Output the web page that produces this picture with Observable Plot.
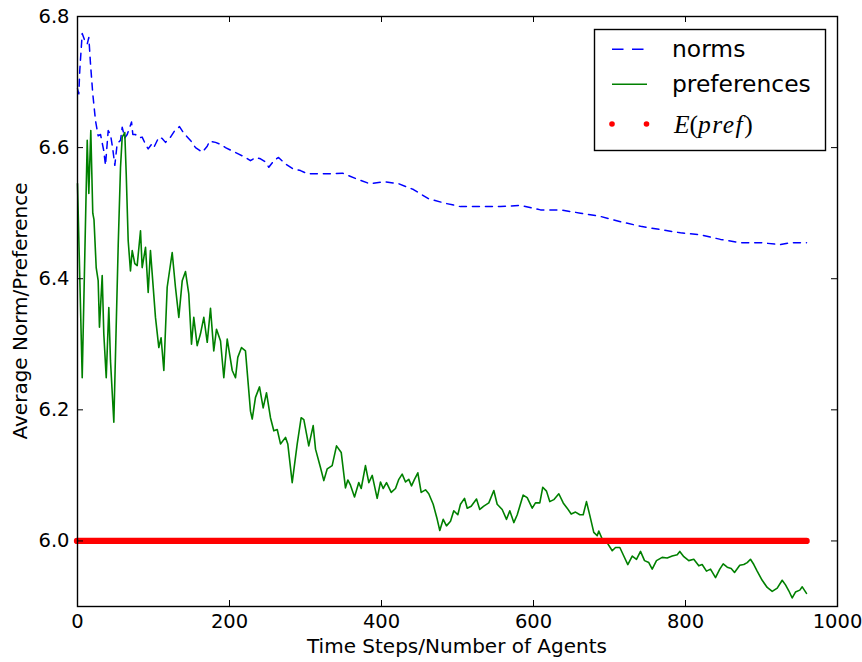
<!DOCTYPE html>
<html>
<head>
<meta charset="utf-8">
<script src="https://cdn.jsdelivr.net/npm/d3@7"></script>
<script src="https://cdn.jsdelivr.net/npm/@observablehq/plot@0.6"></script>
<style>
  html, body { margin: 0; padding: 0; background: #fff; }
  #chart { position: relative; width: 862px; height: 662px; }
</style>
</head>
<body>
<div id="chart"></div>
<script>
// ---- data ----
const xTicks = [0, 200, 400, 600, 800, 1000];
const yTicks = [6.0, 6.2, 6.4, 6.6, 6.8];
const xLabel = "Time Steps/Number of Agents";
const yLabel = "Average Norm/Preference";
const legendLabels = ["norms", "preferences", "E(pref)"];

// norms (blue dashed)
const normT = [0, 1.7, 3, 6.2, 9.6, 12.8, 14.9, 17.1, 20.1, 23.7, 27.2, 30.3, 34.6, 36.8, 40.4, 43.4, 46.4, 49.1, 52.2, 56.6, 58.8, 62.2, 65.4, 71.1, 72.8, 76.3, 80.7, 85.1, 89.5, 93, 97.4, 100.4, 107, 111.4, 115.8, 122.4, 128, 134.2, 139.9, 148.7, 155.3, 164.1, 170.7, 173.7, 181.6, 188.2, 194.7, 203.6, 212.2, 221, 227.6, 234.2, 240.8, 247.4, 251.7, 258.3, 264.5, 273.7, 282.9, 293.4, 302.6, 313.2, 331.6, 348.7, 365.8, 384.2, 403.9, 422.4, 442.1, 461.8, 484.2, 503.9, 530.3, 556.6, 582.9, 609.2, 635.5, 661.8, 688.2, 714.5, 740.8, 767.1, 793.4, 819.7, 846.1, 872.4, 898.7, 925, 938.2, 959.2];
const normV = [6.69, 6.682, 6.718, 6.774, 6.763, 6.758, 6.768, 6.728, 6.682, 6.641, 6.618, 6.62, 6.595, 6.573, 6.626, 6.62, 6.598, 6.573, 6.606, 6.611, 6.631, 6.615, 6.62, 6.639, 6.62, 6.62, 6.615, 6.616, 6.605, 6.598, 6.605, 6.6, 6.616, 6.614, 6.608, 6.616, 6.626, 6.632, 6.622, 6.611, 6.6, 6.593, 6.602, 6.61, 6.608, 6.605, 6.6, 6.595, 6.59, 6.585, 6.58, 6.585, 6.583, 6.578, 6.57, 6.58, 6.585, 6.575, 6.568, 6.565, 6.56, 6.56, 6.56, 6.561, 6.553, 6.545, 6.548, 6.545, 6.536, 6.522, 6.515, 6.51, 6.51, 6.51, 6.512, 6.505, 6.505, 6.5, 6.495, 6.487, 6.48, 6.475, 6.47, 6.467, 6.46, 6.455, 6.455, 6.452, 6.455, 6.455];

// preferences (green)
const prefT = [0, 6.2, 12.8, 14.9, 17.5, 20.1, 21.7, 24.6, 27.2, 28.9, 32.5, 34.6, 37.8, 41.2, 43.4, 47.8, 53.6, 56.6, 58.8, 62.2, 64.1, 66.7, 69.7, 72, 75.4, 78.5, 82.9, 85.1, 89.5, 93, 96, 102.6, 107, 110, 113.6, 118, 124.6, 128.9, 133.3, 137.8, 142.1, 146.4, 150, 153, 157.5, 161.8, 166.2, 170.7, 175, 179.3, 182.9, 188.2, 192.5, 197, 203.6, 207.9, 210.9, 215.8, 221, 227.6, 229.9, 234.2, 239.5, 244.3, 248.7, 253.9, 258.3, 262.8, 267.1, 273.7, 276.7, 282.5, 289.1, 294.3, 297.8, 304.3, 310.1, 313.2, 319.7, 324.1, 328.6, 335.1, 340.8, 347, 352.6, 355.7, 359.2, 364.5, 370.1, 373.3, 378.9, 383.3, 387.8, 394.3, 398.7, 402.2, 406.6, 412.8, 418.4, 422.8, 427.2, 431.6, 435.9, 439.5, 443.4, 447.8, 452.2, 457.9, 462.2, 468, 473.3, 476.7, 481.2, 485.5, 490.8, 495.1, 500.4, 503.9, 509.2, 512.8, 518, 525, 529.3, 534.6, 541.2, 547.8, 552.2, 558.8, 564.5, 568.8, 574.1, 578.6, 586.4, 591.7, 598.3, 602.6, 608.3, 612.2, 617.1, 621.4, 626.7, 633.3, 639.1, 644.3, 649.6, 655.3, 661, 665.4, 669.7, 674.1, 679.3, 683.8, 685.9, 690.4, 697, 703.6, 707.9, 713.6, 718.8, 724.1, 729.9, 735.5, 740.8, 746.1, 751.7, 756.2, 761.8, 769.3, 775.9, 782.5, 789.1, 792.5, 797.8, 804.3, 810.9, 817.5, 821.9, 827.6, 832.9, 839.5, 845.1, 849.6, 854.9, 860.1, 864.5, 871.4, 876.7, 881.2, 885.5, 889.9, 894.3, 900.9, 907.5, 914.1, 920.7, 927.2, 931.6, 935.9, 940.4, 944.7, 950.4, 953.6, 959.2];
const prefV = [6.545, 6.249, 6.611, 6.53, 6.626, 6.5, 6.49, 6.417, 6.397, 6.326, 6.405, 6.316, 6.249, 6.356, 6.275, 6.181, 6.453, 6.57, 6.616, 6.623, 6.56, 6.458, 6.412, 6.443, 6.423, 6.42, 6.473, 6.417, 6.448, 6.379, 6.443, 6.341, 6.295, 6.31, 6.26, 6.387, 6.44, 6.387, 6.341, 6.397, 6.411, 6.377, 6.3, 6.341, 6.298, 6.316, 6.341, 6.303, 6.355, 6.29, 6.323, 6.305, 6.249, 6.308, 6.26, 6.249, 6.28, 6.295, 6.29, 6.198, 6.186, 6.219, 6.235, 6.203, 6.226, 6.188, 6.168, 6.17, 6.148, 6.158, 6.148, 6.089, 6.148, 6.188, 6.185, 6.145, 6.176, 6.14, 6.112, 6.092, 6.11, 6.115, 6.145, 6.135, 6.081, 6.093, 6.085, 6.067, 6.089, 6.08, 6.115, 6.089, 6.1, 6.065, 6.09, 6.08, 6.089, 6.074, 6.08, 6.094, 6.102, 6.09, 6.094, 6.084, 6.094, 6.104, 6.074, 6.078, 6.072, 6.056, 6.033, 6.016, 6.033, 6.023, 6.03, 6.046, 6.04, 6.056, 6.065, 6.05, 6.053, 6.064, 6.048, 6.053, 6.058, 6.077, 6.056, 6.048, 6.033, 6.046, 6.028, 6.04, 6.07, 6.066, 6.05, 6.058, 6.058, 6.082, 6.076, 6.06, 6.063, 6.072, 6.058, 6.05, 6.041, 6.044, 6.04, 6.04, 6.06, 6.039, 6.013, 6.008, 6.015, 6.003, 5.997, 5.985, 5.99, 5.99, 5.977, 5.964, 5.977, 5.972, 5.984, 5.97, 5.967, 5.957, 5.97, 5.975, 5.974, 5.977, 5.979, 5.984, 5.976, 5.97, 5.972, 5.962, 5.964, 5.954, 5.957, 5.944, 5.957, 5.965, 5.96, 5.958, 5.952, 5.963, 5.964, 5.967, 5.972, 5.964, 5.954, 5.94, 5.929, 5.923, 5.928, 5.94, 5.933, 5.924, 5.913, 5.922, 5.925, 5.93, 5.92];

// expected preference (red)
const expectedPref = [6.0];
const expectedSpan = [0, 960];

// ---- build tables ----
const norms = normT.map((t, i) => ({t, v: normV[i]}));
const prefs = prefT.map((t, i) => ({t, v: prefV[i]}));

const W = 862, H = 662;
const M = {top: 16, right: 25, bottom: 56, left: 77};
const fw = W - M.left - M.right, fh = H - M.top - M.bottom;
const tick = 6;

const chart = Plot.plot({
  width: W, height: H,
  marginTop: M.top, marginRight: M.right, marginBottom: M.bottom, marginLeft: M.left,
  style: {fontFamily: "DejaVu Sans", fontSize: "19.5px", color: "#000", background: "#fff", overflow: "visible"},
  x: {domain: [0, 1000]},
  y: {domain: [5.9, 6.8]},
  marks: [
    Plot.line(norms, {x: "t", y: "v", stroke: "#0000ff", strokeWidth: 1.5, strokeDasharray: "7,6"}),
    Plot.line(prefs, {x: "t", y: "v", stroke: "#008000", strokeWidth: 1.6}),
    Plot.ruleY(expectedPref, {y: d => d, x1: expectedSpan[0], x2: expectedSpan[1], stroke: "#ff0000", strokeWidth: 6.3, strokeLinecap: "round"}),
    Plot.frame({stroke: "#000", strokeWidth: 1.4}),
    Plot.tickX(xTicks, {x: d => d, insetTop: fh - tick, stroke: "#000", strokeWidth: 1}),
    Plot.tickX(xTicks, {x: d => d, insetBottom: fh - tick, stroke: "#000", strokeWidth: 1}),
    Plot.tickY(yTicks, {y: d => d, insetRight: fw - tick, stroke: "#000", strokeWidth: 1}),
    Plot.tickY(yTicks, {y: d => d, insetLeft: fw - tick, stroke: "#000", strokeWidth: 1}),
    Plot.axisX(xTicks, {tickSize: 0, tickPadding: 7.5, tickFormat: d3.format("d"), label: null, fill: "#000"}),
    Plot.axisY(yTicks, {tickSize: 0, tickPadding: 8, tickFormat: d3.format(".1f"), label: null, fill: "#000"})
  ]
});

document.getElementById("chart").appendChild(chart);

// axis titles and legend drawn into the same svg
const svg = d3.select(chart);
svg.append("text")
  .attr("x", M.left + fw / 2).attr("y", 653)
  .attr("text-anchor", "middle")
  .style("font-family", "DejaVu Sans").style("font-size", "20px").attr("fill", "#000")
  .text(xLabel);
svg.append("text")
  .attr("transform", `translate(27,${M.top + fh / 2}) rotate(-90)`)
  .attr("text-anchor", "middle")
  .style("font-family", "DejaVu Sans").style("font-size", "20px").attr("fill", "#000")
  .text(yLabel);

const lg = svg.append("g").attr("text-anchor", "start");
lg.append("rect").attr("x", 594.5).attr("y", 29.5).attr("width", 231).attr("height", 121)
  .attr("fill", "#fff").attr("stroke", "#000").attr("stroke-width", 1.4);
// handles
lg.append("line").attr("x1", 612).attr("x2", 644).attr("y1", 49.3).attr("y2", 49.3)
  .attr("stroke", "#0000ff").attr("stroke-width", 1.5).attr("stroke-dasharray", "11.5,8.5");
lg.append("line").attr("x1", 612).attr("x2", 647).attr("y1", 84.3).attr("y2", 84.3)
  .attr("stroke", "#008000").attr("stroke-width", 1.5);
lg.append("circle").attr("cx", 612).attr("cy", 124).attr("r", 2.8).attr("fill", "#ff0000");
lg.append("circle").attr("cx", 646.5).attr("cy", 124).attr("r", 2.8).attr("fill", "#ff0000");
// labels
lg.append("text").attr("x", 672).attr("y", 57).attr("text-anchor", "start")
  .style("font-family", "DejaVu Sans").style("font-size", "23.4px").attr("fill", "#000")
  .text(legendLabels[0]);
lg.append("text").attr("x", 672).attr("y", 91.5).attr("text-anchor", "start")
  .style("font-family", "DejaVu Sans").style("font-size", "23.4px").attr("fill", "#000")
  .text(legendLabels[1]);
// math-style label E(pref)
const m = legendLabels[2].match(/^(\w)\((\w+)\)$/);
const mt = lg.append("text").attr("x", 674).attr("y", 133).attr("text-anchor", "start")
  .style("font-family", "Liberation Serif").style("font-size", "25.5px").attr("fill", "#000");
mt.append("tspan").style("font-style", "italic").text(m[1]);
mt.append("tspan").text("(");
mt.append("tspan").style("font-style", "italic").attr("letter-spacing", "1.5px").text(m[2]);
mt.append("tspan").text(")");
</script>
</body>
</html>
